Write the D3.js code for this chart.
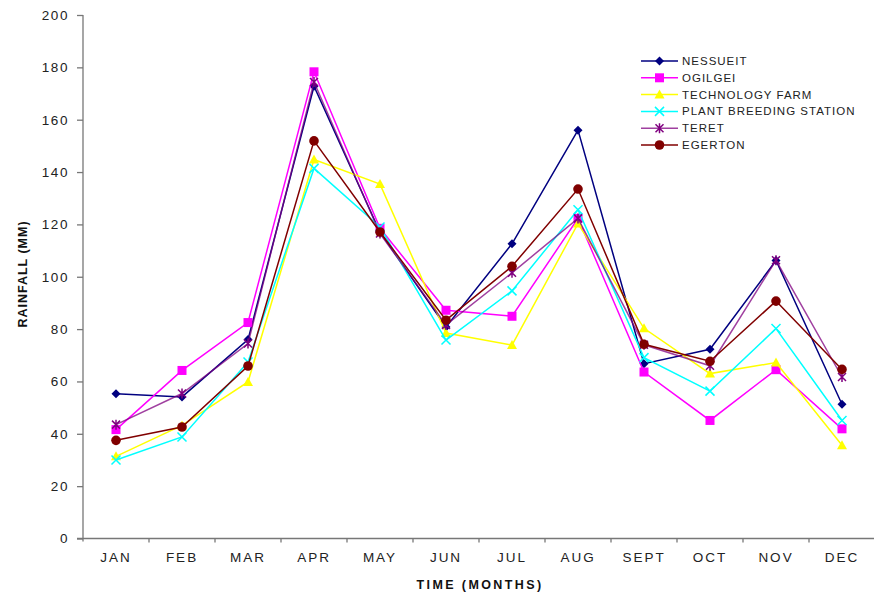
<!DOCTYPE html>
<html>
<head>
<meta charset="utf-8">
<script src="https://cdn.jsdelivr.net/npm/d3@7"></script>
<style>
  html, body { margin: 0; padding: 0; background: #fff; }
  svg { display: block; font-family: "Liberation Sans", Arial, sans-serif; }
</style>
</head>
<body>
<div id="chart"></div>
<script>
// Data
const months = ["JAN", "FEB", "MAR", "APR", "MAY", "JUN", "JUL", "AUG", "SEPT", "OCT", "NOV", "DEC"];
const yTicks = [0, 20, 40, 60, 80, 100, 120, 140, 160, 180, 200];

const nessueit = [55.3, 54.1, 76.0, 172.8, 117.0, 80.8, 112.6, 156.0, 66.8, 72.3, 106.2, 51.3];
const ogilgei = [41.6, 64.2, 82.5, 178.3, 118.5, 87.2, 84.9, 122.3, 63.6, 45.1, 64.5, 41.9];
const technologyFarm = [31.4, 43.2, 59.8, 144.8, 135.4, 78.5, 73.9, 120.3, 80.3, 63.0, 67.2, 35.6];
const plantBreeding = [30.0, 38.8, 67.4, 141.4, 119.0, 75.8, 94.6, 125.6, 69.1, 56.3, 80.2, 45.1];
const teret = [43.5, 55.4, 74.5, 174.4, 116.5, 81.6, 101.5, 122.3, 74.0, 66.0, 106.3, 61.7];
const egerton = [37.5, 42.6, 65.9, 151.9, 117.1, 83.4, 104.0, 133.5, 74.2, 67.7, 90.7, 64.6];

const seriesNames = ["NESSUEIT", "OGILGEI", "TECHNOLOGY FARM", "PLANT BREEDING STATION", "TERET", "EGERTON"];
const seriesValues = [nessueit, ogilgei, technologyFarm, plantBreeding, teret, egerton];
const seriesColors = ["#000080", "#ff00ff", "#ffff00", "#00ffff", "#800080", "#800000"];
const seriesMarkers = ["diamond", "square", "triangle", "x", "asterisk", "circle"];

const series = seriesNames.map((name, i) => ({
  name,
  color: seriesColors[i],
  marker: seriesMarkers[i],
  values: seriesValues[i].map((v, j) => ({ month: months[j], value: v })),
}));

// Dimensions
const dimensions = { width: 874, height: 597, left: 83, right: 875, top: 15, bottom: 538.5 };

const svg = d3.select("#chart").append("svg")
  .attr("width", dimensions.width)
  .attr("height", dimensions.height);

// Scales
const xBand = d3.scaleBand().domain(months).range([dimensions.left, dimensions.right]);
const xScale = (m) => xBand(m) + xBand.bandwidth() / 2;
const yScale = d3.scaleLinear().domain([0, 200]).range([dimensions.bottom, dimensions.top]);

// Axes
const axisColor = "#777";
const textColor = "#222";

const yAxis = svg.append("g")
  .attr("transform", `translate(${dimensions.left},0)`)
  .call(d3.axisLeft(yScale).tickValues(yTicks).tickSize(6).tickSizeOuter(0).tickPadding(8));
yAxis.select(".domain").attr("stroke", axisColor).attr("stroke-width", 1.3)
  .attr("d", `M0,${dimensions.top}V${dimensions.bottom + 3}`);
yAxis.selectAll(".tick line").attr("stroke", axisColor).attr("stroke-width", 1.3);
yAxis.selectAll(".tick text")
  .attr("fill", textColor)
  .style("font-size", "13.5px")
  .style("letter-spacing", "1.6px");

const xAxis = svg.append("g")
  .attr("transform", `translate(0,${dimensions.bottom})`)
  .call(d3.axisBottom(xBand).tickSize(0).tickSizeOuter(0).tickPadding(14));
xAxis.select(".domain").attr("stroke", axisColor).attr("stroke-width", 1.3)
  .attr("d", `M${dimensions.left - 6},0H${dimensions.right}`);
xAxis.selectAll(".tick text")
  .attr("fill", textColor)
  .style("font-size", "13.5px")
  .style("letter-spacing", "2px");
// tick marks between months
xAxis.selectAll(".sep")
  .data(months.slice(1))
  .join("line")
  .attr("class", "sep")
  .attr("x1", (d) => xBand(d))
  .attr("x2", (d) => xBand(d))
  .attr("y1", 0)
  .attr("y2", 4)
  .attr("stroke", axisColor)
  .attr("stroke-width", 1.3);

// Axis titles
svg.append("text")
  .attr("x", 480)
  .attr("y", 589)
  .attr("text-anchor", "middle")
  .attr("fill", "#111")
  .style("font-weight", "bold")
  .style("font-size", "12.5px")
  .style("letter-spacing", "2.4px")
  .text("TIME (MONTHS)");

svg.append("text")
  .attr("transform", `translate(27,274) rotate(-90)`)
  .attr("text-anchor", "middle")
  .attr("fill", "#111")
  .style("font-weight", "bold")
  .style("font-size", "12.5px")
  .style("letter-spacing", "1px")
  .text("RAINFALL (MM)");

// Markers
function drawMarker(g, type, color) {
  if (type === "diamond") {
    g.append("path").attr("d", "M0,-4.5L4.5,0L0,4.5L-4.5,0Z").attr("fill", color);
  } else if (type === "square") {
    g.append("rect").attr("x", -4.5).attr("y", -4.5).attr("width", 9).attr("height", 9).attr("fill", color);
  } else if (type === "triangle") {
    g.append("path").attr("d", "M0,-5L5,4L-5,4Z").attr("fill", color);
  } else if (type === "x") {
    g.append("path").attr("d", "M-4.5,-4.5L4.5,4.5M4.5,-4.5L-4.5,4.5")
      .attr("stroke", color).attr("stroke-width", 1.5).attr("fill", "none");
  } else if (type === "asterisk") {
    g.append("path").attr("d", "M-4,-4L4,4M4,-4L-4,4M0,-5V5")
      .attr("stroke", color).attr("stroke-width", 1.5).attr("fill", "none");
  } else if (type === "circle") {
    g.append("circle").attr("r", 4.8).attr("fill", color);
  }
}

// Lines
const lineGenerator = d3.line()
  .x((d) => xScale(d.month))
  .y((d) => yScale(d.value));

const seriesGroups = svg.append("g")
  .selectAll("g")
  .data(series)
  .join("g");

seriesGroups.append("path")
  .attr("d", (d) => lineGenerator(d.values))
  .attr("fill", "none")
  .attr("stroke", (d) => d.color)
  .attr("stroke-width", 1.5)
  .attr("opacity", (d) => (d.name === "TERET" ? 0.75 : 1));

seriesGroups.each(function (s) {
  d3.select(this).selectAll("g.pt")
    .data(s.values)
    .join("g")
    .attr("class", "pt")
    .attr("transform", (d) => `translate(${xScale(d.month)},${yScale(d.value)})`)
    .each(function () {
      drawMarker(d3.select(this), s.marker, s.color);
    });
});

// Legend
const legend = svg.append("g").attr("transform", "translate(641,61)");
const legendRows = legend.selectAll("g")
  .data(series)
  .join("g")
  .attr("transform", (d, i) => `translate(0,${i * 16.8})`);

legendRows.append("line")
  .attr("x1", 0)
  .attr("x2", 37)
  .attr("stroke", (d) => d.color)
  .attr("stroke-width", 1.5)
  .attr("opacity", (d) => (d.name === "TERET" ? 0.75 : 1));

legendRows.append("g")
  .attr("transform", "translate(18.5,0)")
  .each(function (d) {
    drawMarker(d3.select(this), d.marker, d.color);
  });

legendRows.append("text")
  .attr("x", 41)
  .attr("y", 4)
  .attr("fill", textColor)
  .style("font-size", "11.5px")
  .style("letter-spacing", "1px")
  .text((d) => d.name);
</script>
</body>
</html>
